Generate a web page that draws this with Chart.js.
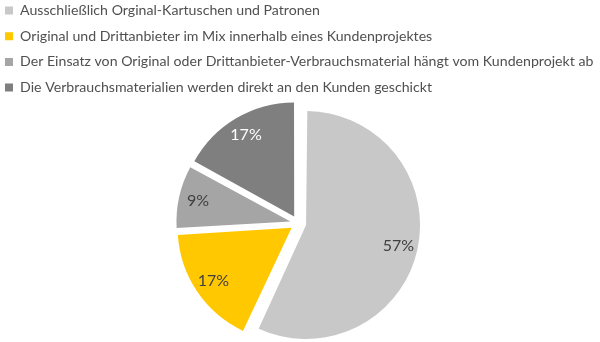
<!DOCTYPE html>
<html>
<head>
<meta charset="utf-8">
<script src="https://cdn.jsdelivr.net/npm/chart.js"></script>
<style>
  html, body { margin: 0; padding: 0; background: #fff; }
  #wrap { width: 600px; height: 342px; }
</style>
</head>
<body>
<div id="wrap"><canvas id="chart"></canvas></div>
<script>
// data
const labels = [
    "Ausschließlich Orginal-Kartuschen und Patronen",
    "Original und Drittanbieter im Mix innerhalb eines Kundenprojektes",
    "Der Einsatz von Original oder Drittanbieter-Verbrauchsmaterial hängt vom Kundenprojekt ab",
    "Die Verbrauchsmaterialien werden direkt an den Kunden geschickt"
];
const shares = [57, 17, 9, 17];

const colors = ["#c8c8c8", "#ffc800", "#a5a5a5", "#7f7f7f"];
const labelColors = ["#404040", "#404040", "#404040", "#ffffff"];

const EXPLODE = 8;   // px every slice is pulled out
const RADIUS = 114;

// chart.js also grows the radius of big slices when offset is set, undo that
const evenRadius = {
    id: "evenRadius",
    afterDatasetsUpdate(chart) {
        chart.getDatasetMeta(0).data.forEach(function(arc) {
            var circ = arc.endAngle - arc.startAngle;
            var fix = 1 - Math.sin(Math.min(Math.PI, circ));
            arc.outerRadius -= EXPLODE * fix;
        });
    }
};

// percent labels inside the slices
const pctLabels = {
    id: "pctLabels",
    afterDatasetsDraw(chart) {
        var ctx = chart.ctx;
        var meta = chart.getDatasetMeta(0);
        var r = meta.controller.outerRadius;
        var total = shares.reduce(function(a, b) { return a + b; }, 0);
        ctx.save();
        ctx.font = "16px Lato";
        ctx.textAlign = "center";
        ctx.textBaseline = "middle";
        meta.data.forEach(function(arc, i) {
            var mid = (arc.startAngle + arc.endAngle) / 2;
            var dist = EXPLODE + r * 0.83;
            ctx.fillStyle = labelColors[i];
            ctx.fillText(Math.round(shares[i] / total * 100) + "%",
                arc.x + Math.cos(mid) * dist, arc.y + Math.sin(mid) * dist);
        });
        ctx.restore();
    }
};

new Chart(document.getElementById("chart"), {
    type: "pie",
    data: {
        labels: labels,
        datasets: [{
            data: shares,
            backgroundColor: colors,
            borderWidth: 0,
            offset: EXPLODE * 4,
            radius: RADIUS
        }]
    },
    options: {
        responsive: true,
        maintainAspectRatio: false,
        animation: false,
        layout: { padding: { left: -6.5, right: 3.5, top: -8, bottom: -2 } },
        plugins: {
            tooltip: { enabled: false },
            legend: {
                position: "top",
                align: "start",
                labels: {
                    boxWidth: 8,
                    boxHeight: 8,
                    padding: 11.5,
                    color: "#505050",
                    font: { family: "Lato", size: 14.15 }
                }
            }
        }
    },
    plugins: [evenRadius, pctLabels]
});
</script>
</body>
</html>
